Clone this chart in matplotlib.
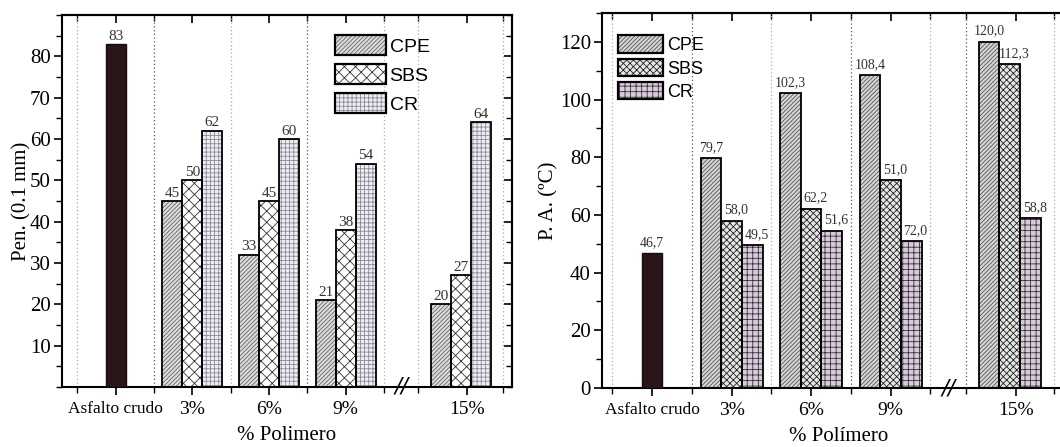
import matplotlib.pyplot as plt
from matplotlib.patches import Patch
from matplotlib.ticker import MultipleLocator, FixedLocator
from matplotlib.transforms import blended_transform_factory

# categories along x
groups = ['Asfalto crudo', '3%', '6%', '9%', '15%']
series = ['CPE', 'SBS', 'CR']

# penetration (left panel), bar heights and printed labels
pen_crudo = 83
pen_crudo_lab = '83'
pen_cpe = [45, 32, 21, 20]
pen_sbs = [50, 45, 38, 27]
pen_cr = [62, 60, 54, 64]
pen_cpe_lab = ['45', '33', '21', '20']
pen_sbs_lab = ['50', '45', '38', '27']
pen_cr_lab = ['62', '60', '54', '64']

# softening point (right panel), bar heights and printed labels
pa_crudo = 46.7
pa_crudo_lab = '46,7'
pa_cpe = [79.7, 102.3, 108.4, 120.0]
pa_sbs = [58.0, 62.2, 72.0, 112.3]
pa_cr = [49.5, 54.5, 51.0, 58.8]
pa_cpe_lab = ['79,7', '102,3', '108,4', '120,0']
pa_sbs_lab = ['58,0', '62,2', '51,0', '112,3']
pa_cr_lab = ['49,5', '51,6', '72,0', '58,8']

# layout of the category axis
centers = [0.5, 1.5, 2.5, 3.5, 5.0]
tick_pos = [0.5, 1.5, 2.5, 3.5, 5.08]
bounds = [0, 1, 2, 3, 4, 4.45, 5.55]
width = 0.26
brk = 4.225

plt.rcParams['font.family'] = ['Liberation Serif', 'DejaVu Serif']
plt.rcParams['hatch.linewidth'] = 0.6

fig = plt.figure(figsize=(10.6, 4.47), dpi=100)
ax1 = fig.add_axes([62 / 1060, 1 - 387 / 447, 450 / 1060, 372 / 447])
# right panel runs past the figure edge, as in the original
ax2 = fig.add_axes([602 / 1060, 1 - 388 / 447, 473 / 1060, 375 / 447])


def hbar(ax, x, h, face, hatch, hcol):
    ax.bar(x, h, width, color=face, hatch=hatch, edgecolor=hcol, linewidth=0, zorder=2)
    ax.bar(x, h, width, fill=False, edgecolor='black', linewidth=1.3, zorder=3)


def panel(ax, crudo, crudo_lab, vals, labs, styles, lab_size, lab_off, lab_dx, xlim, dark):
    for b in bounds:
        c = '#555555' if b in dark else '#aaaaaa'
        ax.axvline(b, color=c, linestyle=(0, (1, 2)), linewidth=0.9, zorder=1)
    ax.bar(centers[0], crudo, width, color='#2a1518', edgecolor='#1a0a0c', linewidth=1, zorder=3)
    ax.annotate(crudo_lab, (centers[0], crudo), xytext=(0, lab_off), textcoords='offset points',
                ha='center', va='bottom', fontsize=lab_size, color='#333333', zorder=6)
    handles = []
    for k, (v, lab, st) in enumerate(zip(vals, labs, styles)):
        face, hatch, hcol = st
        for i in range(4):
            x = centers[i + 1] + (k - 1) * width
            hbar(ax, x, v[i], face, hatch, hcol)
            ax.annotate(lab[i], (x, v[i]), xytext=(lab_dx if k else 0, lab_off),
                        textcoords='offset points', ha='center', va='bottom',
                        fontsize=lab_size, color='#333333', zorder=6)
        handles.append((Patch(facecolor=face, hatch=hatch, edgecolor=hcol, linewidth=0),
                        Patch(fill=False, edgecolor='black', linewidth=1.6)))
    ax.set_xlim(*xlim)
    ax.xaxis.set_major_locator(FixedLocator(tick_pos))
    ax.xaxis.set_minor_locator(FixedLocator(bounds))
    ax.set_xticklabels(groups)
    for lab in ax.get_xticklabels():
        lab.set_fontsize(14)
    ax.get_xticklabels()[0].set_fontsize(12.5)
    ax.tick_params(axis='x', which='major', direction='out', length=6, width=1.2, pad=4)
    ax.tick_params(axis='x', which='minor', direction='out', length=4, width=1)
    ax.tick_params(axis='y', which='major', direction='out', length=6, width=1.2, labelsize=15, pad=2)
    ax.tick_params(axis='y', which='minor', direction='out', length=4, width=1)
    for s in ax.spines.values():
        s.set_linewidth(1.5)
    sec_x = ax.secondary_xaxis('top')
    sec_x.xaxis.set_major_locator(FixedLocator(tick_pos))
    sec_x.xaxis.set_minor_locator(FixedLocator(bounds))
    sec_x.tick_params(which='major', direction='in', length=6, width=1.2, labeltop=False)
    sec_x.tick_params(which='minor', direction='in', length=4, width=1)
    sec_x.spines['top'].set_linewidth(1.5)
    sec_y = ax.secondary_yaxis('right')
    sec_y.yaxis.set_major_locator(ax.yaxis.get_major_locator())
    sec_y.yaxis.set_minor_locator(ax.yaxis.get_minor_locator())
    sec_y.tick_params(which='major', direction='in', length=6, width=1.2, labelright=False)
    sec_y.tick_params(which='minor', direction='in', length=4, width=1)
    sec_y.spines['right'].set_linewidth(1.5)
    # axis break mark
    tr = blended_transform_factory(ax.transData, ax.transAxes)
    ax.text(brk, 0, '//', transform=tr, ha='center', va='center', fontsize=15,
            family='DejaVu Sans', fontstyle='italic', clip_on=False, zorder=5)
    ax.set_xlabel('% Polimero' if ax is ax1 else '% Polímero', fontsize=15, labelpad=6)
    return handles


# left panel
ax1.set_ylim(0, 90)
ax1.set_yticks([10, 20, 30, 40, 50, 60, 70, 80])
ax1.yaxis.set_minor_locator(MultipleLocator(5))
styles1 = [('#dcdcdc', '////////', '#666666'),
           ('#ffffff', 'xxx', '#333333'),
           ('#eeeef2', '++++', '#8a8a99')]
h1 = panel(ax1, pen_crudo, pen_crudo_lab, [pen_cpe, pen_sbs, pen_cr],
           [pen_cpe_lab, pen_sbs_lab, pen_cr_lab], styles1, 11, 1, 0, (-0.2, 5.67), [1, 3])
ax1.set_ylabel('Pen. (0.1 mm)', fontsize=15, labelpad=-1)
ax1.legend(h1, series, loc='upper left', bbox_to_anchor=(0.607, 0.945), frameon=False,
           prop={'family': 'Liberation Sans', 'size': 14}, handlelength=2.6, handleheight=1.15,
           handletextpad=0.2, labelspacing=0.45, borderpad=0, borderaxespad=0)

# right panel
ax2.set_ylim(0, 130)
ax2.set_yticks([0, 20, 40, 60, 80, 100, 120])
ax2.yaxis.set_minor_locator(MultipleLocator(10))
styles2 = [('#d6d6d6', '////////', '#555555'),
           ('#e6e6e6', 'xxxxx', '#222222'),
           ('#d5ccd8', '+++', '#3a2a3c')]
h2 = panel(ax2, pa_crudo, pa_crudo_lab, [pa_cpe, pa_sbs, pa_cr],
           [pa_cpe_lab, pa_sbs_lab, pa_cr_lab], styles2, 10, 3, 3, (-0.13, 5.82), [1, 3, 4.45])
ax2.set_ylabel('P. A. (ºC)', fontsize=15, labelpad=1)
ax2.legend(h2, series, loc='upper left', bbox_to_anchor=(0.034, 0.94), frameon=False,
           prop={'family': 'Liberation Sans', 'size': 13}, handlelength=2.5, handleheight=1.1,
           handletextpad=0.2, labelspacing=0.25, borderpad=0, borderaxespad=0)

fig.savefig('out.png', dpi=100)
